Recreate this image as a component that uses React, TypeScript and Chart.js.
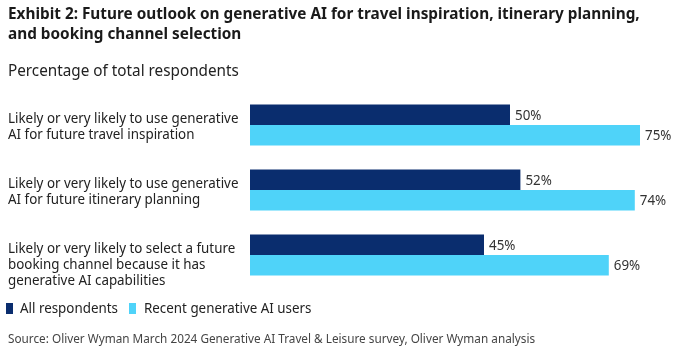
import React, { useEffect, useRef } from "react";
import { Chart, registerables } from "chart.js";
Chart.register(...registerables);

const categories: string[][] = [
  ["Likely or very likely to use generative", "AI for future travel inspiration"],
  ["Likely or very likely to use generative", "AI for future itinerary planning"],
  ["Likely or very likely to select a future", "booking channel because it has", "generative AI capabilities"],
];
const allRespondents = [50, 52, 45];
const recentUsers = [75, 74, 69];
const seriesNames = ["All respondents", "Recent generative AI users"];
const colors = ["#0A2D6E", "#4FD3F9"];
const FONT = "'Noto Sans', sans-serif";
const SX = 0.955;

function drawText(ctx: any, s: string, x: number, y: number) {
  ctx.save();
  ctx.translate(x, y);
  ctx.scale(SX, 1);
  ctx.fillText(s, 0, 0);
  ctx.restore();
}

const textPlugin = {
  id: "texts",
  afterDatasetsDraw(chart: any) {
    const ctx = chart.ctx;
    const y = chart.scales.y;
    ctx.save();
    ctx.fillStyle = "#222";
    ctx.font = `14px ${FONT}`;
    ctx.textAlign = "left";
    ctx.textBaseline = "middle";
    categories.forEach((lines, i) => {
      const c = y.getPixelForValue(i);
      lines.forEach((ln, k) => drawText(ctx, ln, 8, c - 5.5 + k * 16));
    });
    ctx.fillStyle = "#333";
    chart.data.datasets.forEach((ds: any, di: number) => {
      const meta = chart.getDatasetMeta(di);
      meta.data.forEach((bar: any, i: number) => {
        drawText(ctx, ds.data[i] + "%", bar.x + 5, bar.y + 1);
      });
    });
    ctx.restore();
  },
};

const squeeze: React.CSSProperties = { transform: `scaleX(${SX})`, transformOrigin: "left center", whiteSpace: "nowrap" };

export default function App() {
  const ref = useRef<HTMLCanvasElement>(null);
  useEffect(() => {
    const chart = new Chart(ref.current!, {
      type: "bar",
      data: {
        labels: categories.map((c) => c.join(" ")),
        datasets: [
          { label: seriesNames[0], data: allRespondents, backgroundColor: colors[0] },
          { label: seriesNames[1], data: recentUsers, backgroundColor: colors[1] },
        ],
      },
      options: {
        indexAxis: "y",
        animation: false,
        responsive: false,
        maintainAspectRatio: false,
        layout: { padding: { left: 250, right: 11, top: 92.5, bottom: 59.5 } },
        datasets: { bar: { categoryPercentage: 0.63, barPercentage: 1 } },
        scales: {
          x: { display: false, min: 0, max: 80 },
          y: { display: false },
        },
        plugins: { legend: { display: false }, tooltip: { enabled: false } },
      },
      plugins: [textPlugin],
    });
    return () => chart.destroy();
  }, []);

  return (
    <div style={{ position: "absolute", left: 0, top: 0, width: 677, height: 347, background: "#fff", fontFamily: FONT, color: "#222" }}>
      <canvas ref={ref} width={677} height={347} style={{ position: "absolute", left: 0, top: 0 }} />
      <div style={{ position: "absolute", left: 8, top: 4, fontWeight: 700, fontSize: 16, lineHeight: "19.5px", color: "#1a1a1a", ...squeeze, transform: "scaleX(0.958)" }}>
        Exhibit 2: Future outlook on generative AI for travel inspiration, itinerary planning,
        <br />
        and booking channel selection
      </div>
      <div style={{ position: "absolute", left: 8, top: 60, fontSize: 16, lineHeight: "20px", ...squeeze }}>
        Percentage of total respondents
      </div>
      <div style={{ position: "absolute", left: 6, top: 298, fontSize: 14, lineHeight: "20px", display: "flex", alignItems: "center", whiteSpace: "nowrap" }}>
        <span style={{ width: 7, height: 11, background: colors[0], display: "inline-block", marginRight: 7 }} />
        <span style={{ ...squeeze, display: "inline-block", width: 97, marginRight: 12 }}>{seriesNames[0]}</span>
        <span style={{ width: 7, height: 11, background: colors[1], display: "inline-block", marginRight: 8 }} />
        <span style={{ ...squeeze, display: "inline-block" }}>{seriesNames[1]}</span>
      </div>
      <div style={{ position: "absolute", left: 8, top: 331, fontSize: 12, lineHeight: "16px", color: "#444", ...squeeze, transform: "scaleX(0.98)" }}>
        Source: Oliver Wyman March 2024 Generative AI Travel &amp; Leisure survey, Oliver Wyman analysis
      </div>
    </div>
  );
}
